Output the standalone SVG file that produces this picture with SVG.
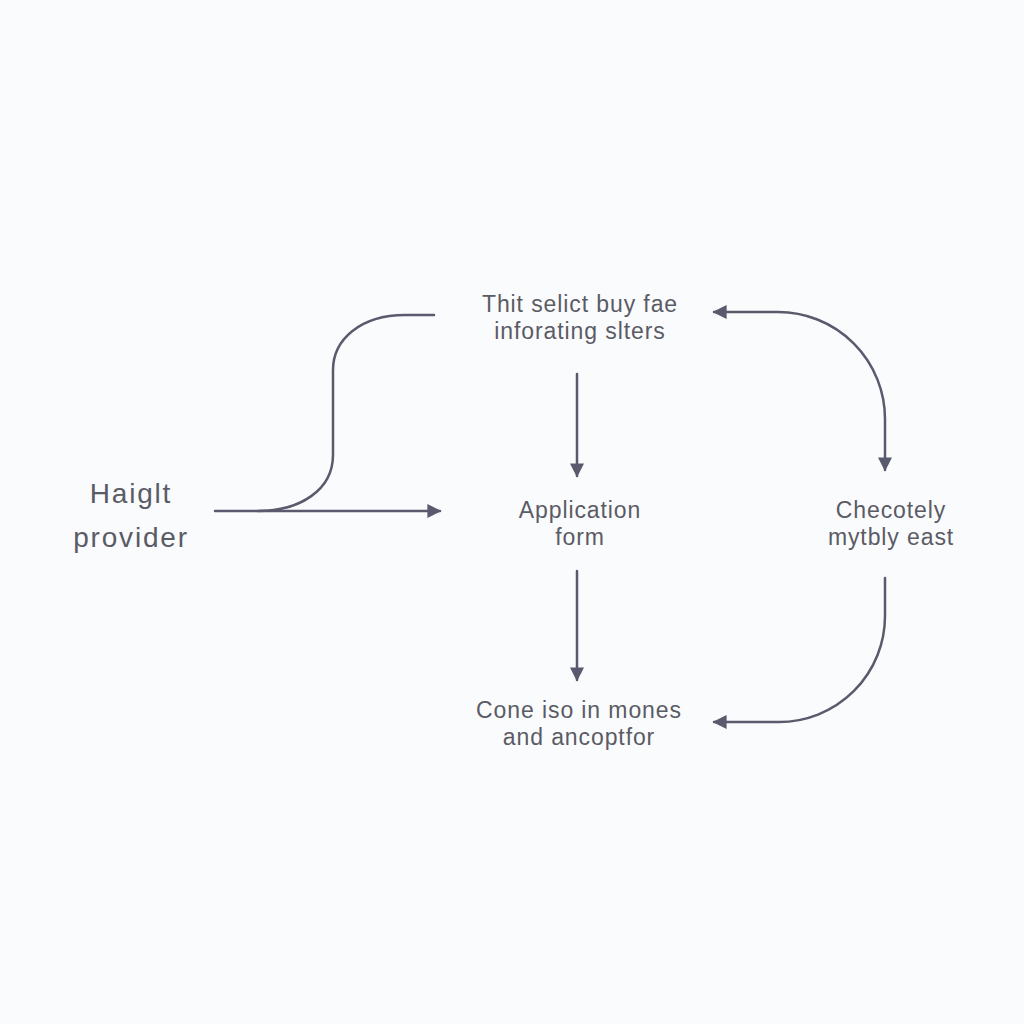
<svg xmlns="http://www.w3.org/2000/svg" width="1024" height="1024" viewBox="0 0 1024 1024">
<style>
.lbl{font-family:"Liberation Sans",Arial,sans-serif;fill:#5b5b66;text-anchor:middle}
.m{font-size:23px;letter-spacing:0.9px}
.l{font-size:28px;letter-spacing:1.8px}
.c{fill:none;stroke:#5a5a6e;stroke-width:2.5;stroke-linecap:round}
</style>
<defs>
<marker id="ah" viewBox="0 0 10 10" refX="9" refY="5" markerWidth="14" markerHeight="14" markerUnits="userSpaceOnUse" orient="auto-start-reverse">
<path d="M0,0 L10,5 L0,10 z" fill="#5a5a6e"/>
</marker>
</defs>
<rect width="1024" height="1024" fill="#fafbfc"/>
<g id="connectors">
<path class="c" d="M215 511 H440" marker-end="url(#ah)"/>
<path class="c" d="M434 315 H405 C360 315 333 340 333 370 V455 C333 490 300 511 258 511"/>
<path class="c" d="M577 374 V476" marker-end="url(#ah)"/>
<path class="c" d="M577 571 V680" marker-end="url(#ah)"/>
<path class="c" d="M714 312 H778 A107 107 0 0 1 885 419 V470" marker-start="url(#ah)" marker-end="url(#ah)"/>
<path class="c" d="M885 578 V616 A106 106 0 0 1 779 722 H714" marker-end="url(#ah)"/>
</g>
<g id="node-top">
<text class="lbl m" x="580" y="312">Thit selict buy fae</text>
<text class="lbl m" x="580" y="339">inforating slters</text>
</g>
<g id="node-provider">
<text class="lbl l" x="131" y="503">Haiglt</text>
<text class="lbl l" x="131" y="547">provider</text>
</g>
<g id="node-application">
<text class="lbl m" x="580" y="518">Application</text>
<text class="lbl m" x="580" y="545">form</text>
</g>
<g id="node-right">
<text class="lbl m" x="891" y="518">Checotely</text>
<text class="lbl m" x="891" y="545">mytbly east</text>
</g>
<g id="node-bottom">
<text class="lbl m" x="579" y="718">Cone iso in mones</text>
<text class="lbl m" x="579" y="745">and ancoptfor</text>
</g>
</svg>
